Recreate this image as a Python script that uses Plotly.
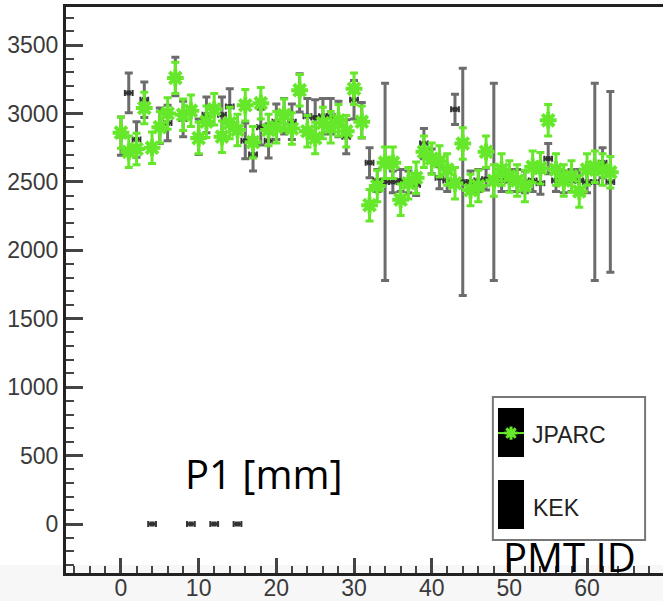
import plotly.graph_objects as go

pmt = list(range(64))
kek = [2835, 3150, 2810, 3100, 0, 2910, 2930, 3270, 2960, 0,
       2830, 2990, 0, 2990, 3050, 0, 2800, 2700, 2900, 2800,
       2940, 2980, 2940, 3150, 2980, 2970, 2980, 2980, 2960, 2830,
       3100, 2950, 2640, 2510, 2500, 2500, 2510, 2500, 2480, 2780,
       2650, 2530, 2510, 3030, 2500, 2500, 2510, 2520, 2500, 2510,
       2510, 2510, 2500, 2510, 2490, 2670, 2510, 2500, 2510, 2510,
       2500, 2500, 2640, 2500]
kek_err = [140, 145, 130, 130, 0, 130, 130, 140, 130, 0,
           130, 130, 0, 130, 130, 0, 130, 120, 130, 125,
           130, 130, 130, 140, 130, 130, 130, 130, 130, 125,
           140, 130, 110, 80, 720, 80, 80, 80, 80, 110,
           90, 80, 80, 110, 830, 80, 80, 80, 720, 80,
           80, 80, 80, 80, 80, 110, 80, 80, 80, 80,
           80, 720, 110, 660]
jparc = [2860, 2720, 2740, 3040, 2750, 2900, 3000, 3260, 2990, 3020,
         2820, 2940, 3030, 2830, 2930, 2880, 3060, 2790, 3075, 2880,
         2900, 2990, 2890, 3170, 2870, 2820, 2930, 2900, 2950, 2870,
         3180, 2940, 2330, 2470, 2640, 2640, 2370, 2490, 2530, 2720,
         2670, 2650, 2590, 2490, 2780, 2440, 2470, 2720, 2510, 2590,
         2540, 2510, 2470, 2610, 2600, 2950, 2590, 2510, 2540, 2430,
         2590, 2610, 2590, 2570]
jparc_err = [115] * 64
x_err = [0.5] * 64

GREEN = "#66e82a"
GRAY = "#6c6c6c"

fig = go.Figure()
fig.add_trace(go.Scatter(
    x=pmt, y=kek, mode="markers", name="KEK", showlegend=False,
    marker=dict(symbol="square", size=5, color="#333333"),
    error_y=dict(type="data", array=kek_err, color=GRAY, thickness=3, width=4),
    error_x=dict(type="data", array=x_err, color="#333333", thickness=2, width=3),
))
fig.add_trace(go.Scatter(
    x=pmt, y=jparc, mode="markers", name="JPARC", showlegend=False,
    marker=dict(symbol="asterisk-open", size=14, color=GREEN,
                line=dict(color=GREEN, width=4)),
    error_y=dict(type="data", array=jparc_err, color=GREEN, thickness=3, width=4),
    error_x=dict(type="data", array=x_err, color=GREEN, thickness=2, width=0),
))

# legend marker on an overlay axis in [0, 1] units
fig.add_trace(go.Scatter(
    x=[0.7236, 0.7672], y=[0.2473, 0.2473], mode="lines", xaxis="x2", yaxis="y2",
    line=dict(color=GREEN, width=2), showlegend=False, hoverinfo="skip"))
fig.add_trace(go.Scatter(
    x=[0.7454], y=[0.2473], mode="markers", xaxis="x2", yaxis="y2",
    marker=dict(symbol="asterisk-open", size=11, color=GREEN,
                line=dict(color=GREEN, width=3)),
    showlegend=False, hoverinfo="skip"))

axis_font = dict(family="Liberation Sans, Arial", size=23, color="#3a3a3a")
leg_font = dict(family="Liberation Sans, Arial", size=23, color="#222")
big_font = dict(family="Open Sans", size=40, color="black")

fig.update_layout(
    width=663, height=601,
    margin=dict(l=66, r=0, t=7, b=28, autoexpand=False),
    paper_bgcolor="white", plot_bgcolor="rgba(0,0,0,0)",
    showlegend=False,
    xaxis=dict(range=[-7.08, 69.78], showgrid=False, zeroline=False,
               automargin=False, ticklabelstandoff=-8,
               showline=True, linewidth=3, linecolor="#222", mirror=True,
               ticks="inside", ticklen=15, tickwidth=3, tickcolor="#444",
               dtick=10, tick0=0, tickfont=axis_font,
               minor=dict(ticks="inside", ticklen=7, tickwidth=2,
                          tickcolor="#444", dtick=2, showgrid=False)),
    yaxis=dict(range=[-358, 3778], showgrid=False, zeroline=False,
               automargin=False,
               showline=True, linewidth=3, linecolor="#222",
               ticks="inside", ticklen=17, tickwidth=3, tickcolor="#444",
               dtick=500, tick0=0, tickfont=axis_font,
               minor=dict(ticks="inside", ticklen=8, tickwidth=2,
                          tickcolor="#444", dtick=100, showgrid=False)),
    xaxis2=dict(overlaying="x", range=[0, 1], visible=False, automargin=False),
    yaxis2=dict(overlaying="y", range=[0, 1], visible=False, automargin=False),
    shapes=[
        dict(type="rect", xref="paper", yref="paper", x0=-0.12, x1=1.0,
             y0=-0.05, y1=0.014, fillcolor="#f7f7f7", line=dict(width=0),
             layer="below"),
        dict(type="rect", xref="paper", yref="paper", x0=0.715, x1=0.970,
             y0=0.0583, y1=0.311, fillcolor="white",
             line=dict(color="#777", width=2), layer="below"),
        dict(type="rect", xref="paper", yref="paper", x0=0.7236, x1=0.7672,
             y0=0.2049, y1=0.2915, fillcolor="black", line=dict(width=0),
             layer="below"),
        dict(type="rect", xref="paper", yref="paper", x0=0.7236, x1=0.7672,
             y0=0.0777, y1=0.1643, fillcolor="black", line=dict(width=0),
             layer="below"),
    ],
    annotations=[
        dict(text="JPARC", xref="x2", yref="y2", x=0.777, y=0.2438,
             xanchor="left", yanchor="middle", showarrow=False, font=leg_font),
        dict(text="KEK", xref="x2", yref="y2", x=0.779, y=0.1148,
             xanchor="left", yanchor="middle", showarrow=False, font=leg_font),
        dict(text="P1 [mm]", xref="x2", yref="y2", x=0.196, y=0.175,
             xanchor="left", yanchor="middle", showarrow=False, font=big_font),
        dict(text="PMT ID", xref="x2", yref="y2", x=0.844, y=0.03,
             xanchor="center", yanchor="middle", showarrow=False, font=big_font),
    ],
)

fig.write_html("out.html")
